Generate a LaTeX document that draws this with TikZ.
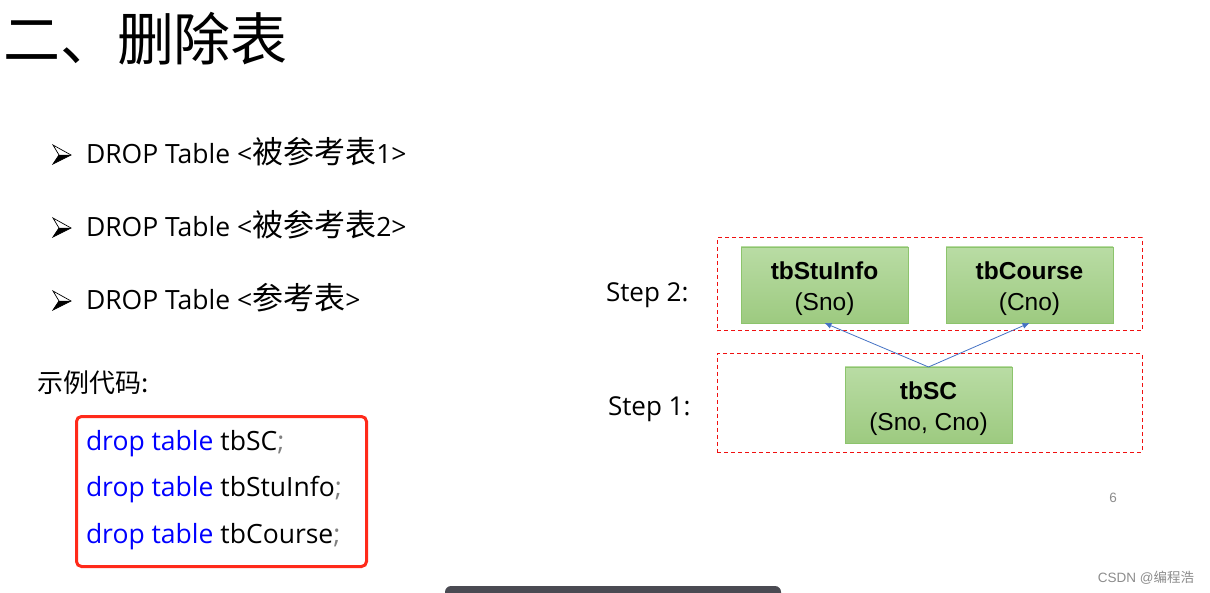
\documentclass[tikz,border=0pt]{standalone}
\usepackage{fontspec}
\usepackage{xcolor}
\usepackage{tikz}
\usetikzlibrary{positioning, arrows.meta}
\setmainfont{Open Sans}
\newfontfamily\cjk{Noto Sans CJK SC}
\newfontfamily\arialfont{Liberation Sans}

\definecolor{codered}{HTML}{FF2A1A}
\definecolor{dashred}{HTML}{F01010}
\definecolor{kwblue}{HTML}{0000FF}
\definecolor{semigray}{HTML}{808080}
\definecolor{tbltop}{HTML}{B9DCA4}
\definecolor{tblbot}{HTML}{9DCA80}
\definecolor{tblline}{HTML}{8CC46C}
\definecolor{linkblue}{HTML}{4472C4}
\definecolor{markgray}{HTML}{8C8C8C}
\definecolor{bardark}{HTML}{4A4A52}

\newcommand{\cjkitem}[1]{{\cjk\fontsize{31}{32}\selectfont #1}}
\newcommand{\tblstrut}{\rule{0pt}{24.5pt}}

\begin{document}
\begin{tikzpicture}[
          x=1pt, y=-1pt,
          every node/.style={inner sep=0pt, outer sep=0pt},
          title/.style={anchor=west, font=\cjk\fontsize{57}{60}\selectfont},
          item/.style={anchor=base west, font=\fontsize{26.5}{30}\selectfont},
          codeline/.style={anchor=base west, font=\fontsize{26.5}{30}\selectfont},
          steplabel/.style={anchor=base west, font=\fontsize{26}{30}\selectfont},
          tbl/.style={draw=tblline, line width=0.8pt, top color=tbltop, bottom color=tblbot, minimum width=167pt, minimum height=76pt, align=center, font=\arialfont\fontsize{24.5}{31}\selectfont},
          stepbox/.style={draw=dashred, line width=1pt, dash pattern=on 4pt off 3pt, minimum width=425pt, minimum height=93pt},
          link/.style={-{Latex[length=7pt,width=6pt]}, draw=linkblue, line width=0.8pt},
          small/.style={text=markgray, font=\arialfont\fontsize{13.5}{15}\selectfont}
      ]
      \useasboundingbox (0,0) rectangle (1210,593);

      % Title
      \node[title] (title) at (3,38.5) {二、删除表};

      % Bullets
      \foreach \i/\y/\t in {1/155/\cjkitem{被参考表}1, 2/228/\cjkitem{被参考表}2, 3/301/\cjkitem{参考表}} {
        \draw[line width=0.7pt, line join=miter] (71,\y) -- (53,\y-10) -- (59,\y) -- (53,\y+9) -- cycle;
        \fill (71,\y) -- (59,\y) -- (53,\y+9) -- cycle;
        \node[item] (item\i) at (86,\y+9) {DROP Table <\t>};
      }

      % Sample code
      \node[anchor=base west, font=\cjk\fontsize{26}{30}\selectfont] (sample) at (37,392) {示例代码:};
      \node[draw=codered, line width=3pt, rounded corners=5pt, minimum width=290pt, minimum height=150pt] (codebox) at (221.5,491.5) {};
      \node[codeline] (code1) at (86,450) {\textcolor{kwblue}{drop table} tbSC\textcolor{semigray}{;}};
      \node[codeline] (code2) at (86,496) {\textcolor{kwblue}{drop table} tbStuInfo\textcolor{semigray}{;}};
      \node[codeline] (code3) at (86,543) {\textcolor{kwblue}{drop table} tbCourse\textcolor{semigray}{;}};

      % Steps
      \node[stepbox] (step2) at (929.5,284.5) {};
      \node[stepbox, minimum height=98pt] (step1) at (929.5,403) {};
      \node[steplabel] (lab2) at (606,302) {Step 2:};
      \node[steplabel] (lab1) at (608,416) {Step 1:};

      \node[tbl] (stuinfo) at (824.5,285) {\tblstrut\textbf{tbStuInfo}\\(Sno)};
      \node[tbl, right=38pt of stuinfo] (course) {\tblstrut\textbf{tbCourse}\\(Cno)};
      \node[tbl] (sc) at (928.5,405) {\tblstrut\textbf{tbSC}\\(Sno, Cno)};

      \draw[link] (sc.north) -- (stuinfo.south);
      \draw[link] (sc.north) -- (course.south);

      % Page marks
      \node[small] (page) at (1113,498) {6};
      \node[small, anchor=base east] (credit) at (1194,582) {CSDN @{\cjk 编程浩}};
      \fill[bardark, rounded corners=6pt] (445,586) rectangle (781,605);

      \end{tikzpicture}
\end{document}
